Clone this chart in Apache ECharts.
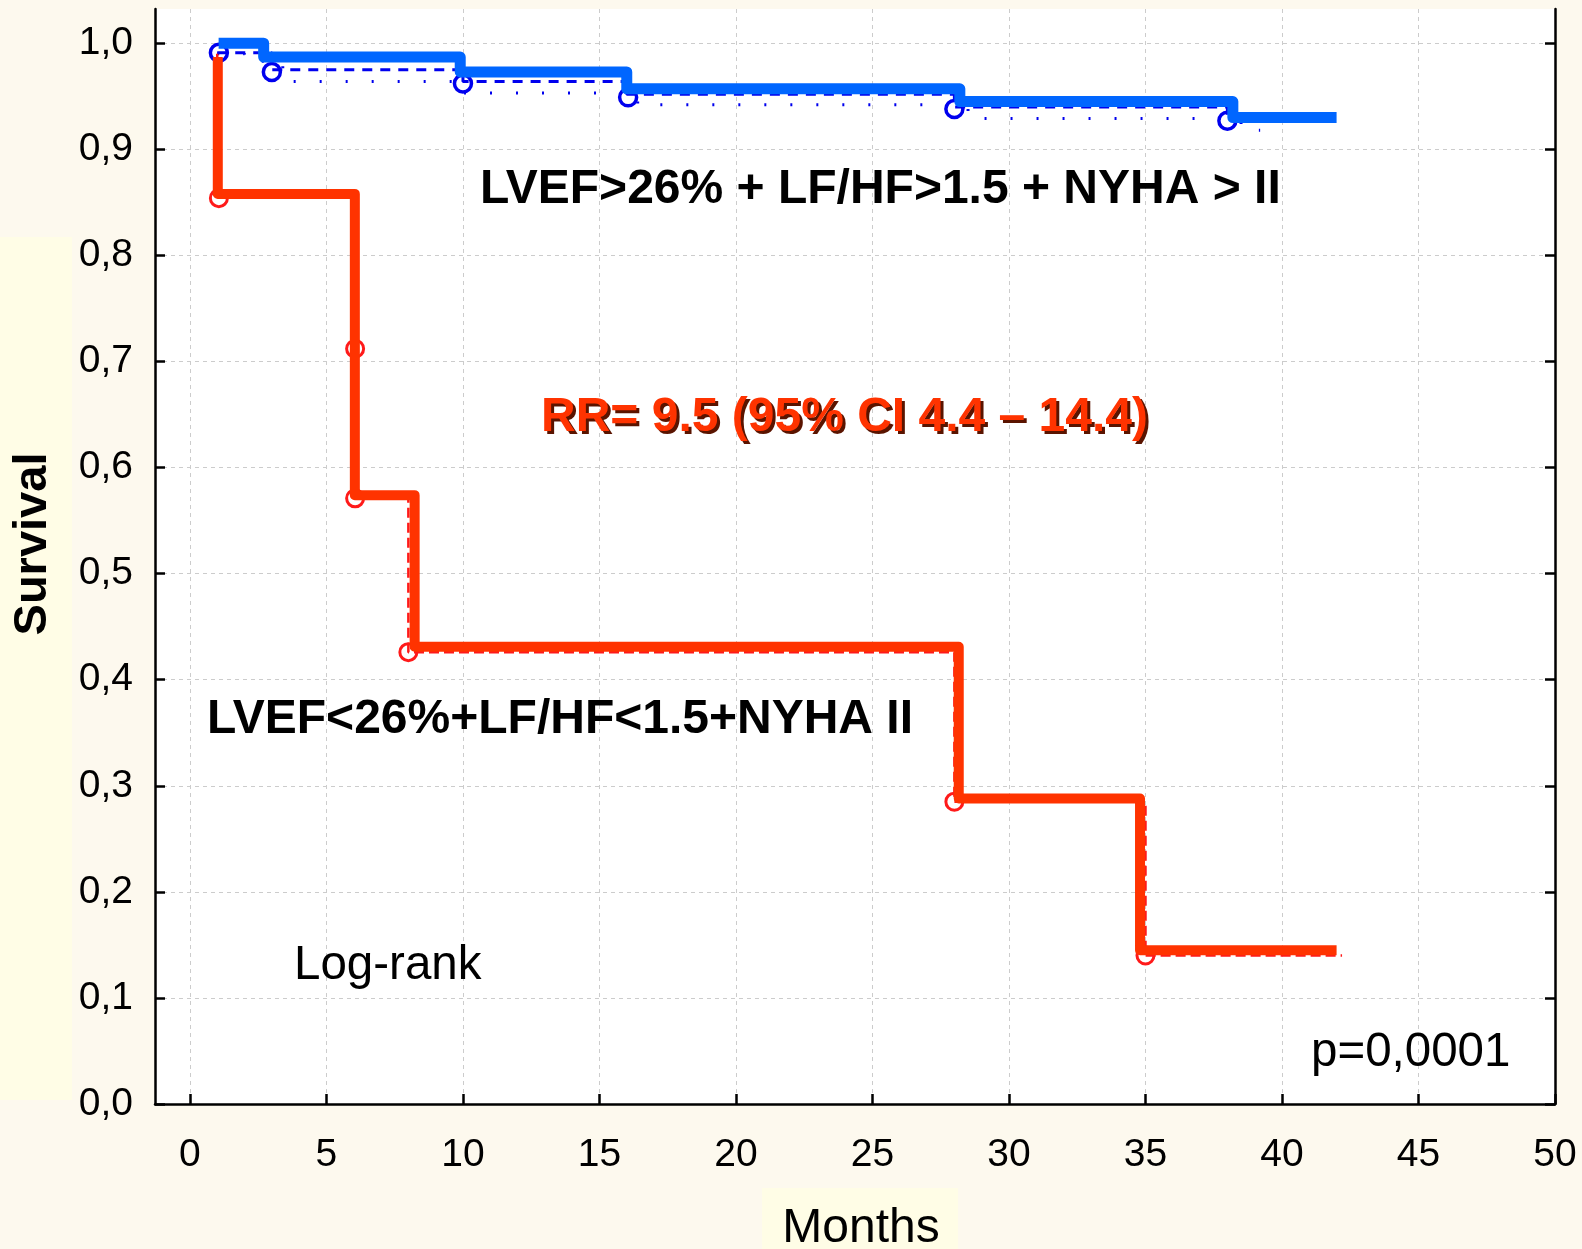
<!DOCTYPE html>
<html>
<head>
<meta charset="utf-8">
<title>Survival</title>
<script src="https://cdn.jsdelivr.net/npm/echarts@6/dist/echarts.min.js"></script>
<style>
  html, body { margin: 0; padding: 0; background: #fdf9ee; }
  #chart { width: 1582px; height: 1249px; }
</style>
</head>
<body>
<div id="chart"></div>
<script>
// tick values
const xTicks = [0, 5, 10, 15, 20, 25, 30, 35, 40, 45, 50]
const yTicks = [0, 0.1, 0.2, 0.3, 0.4, 0.5, 0.6, 0.7, 0.8, 0.9, 1.0]

// thick KM curves (step at each time)
const blueTimes = [1.05, 2.7, 9.9, 16.0, 28.2, 38.2, 42.0]
const blueSurv = [1.0, 0.987, 0.973, 0.957, 0.945, 0.930, 0.930]
const redTimes = [1.02, 1.02, 6.04, 8.23, 28.16, 34.8, 42.0]
const redSurv = [0.987, 0.858, 0.574, 0.431, 0.288, 0.145, 0.145]

// thin estimates
const blueDashT = [1.0, 3.0, 10.0, 16.0, 28.0, 38.0, 39.0]
const blueDashS = [0.991, 0.975, 0.964, 0.952, 0.940, 0.928, 0.928]
const blueDotT = [1.0, 2.0, 3.4, 10.0, 16.4, 28.5, 38.5, 39.2]
const blueDotS = [0.990, 0.983, 0.964, 0.953, 0.942, 0.929, 0.918, 0.918]
const redDashT = [1.0, 1.0, 6.0, 8.0, 28.0, 35.0, 42.2]
const redDashS = [0.990, 0.855, 0.571, 0.426, 0.285, 0.140, 0.140]

// censored / event markers
const blueCensT = [1.06, 3.0, 10.0, 16.05, 28.0, 38.0]
const blueCensS = [0.991, 0.973, 0.962, 0.949, 0.938, 0.927]
const redCensT = [1.06, 6.05, 6.05, 8.0, 28.0, 35.0]
const redCensS = [0.854, 0.712, 0.571, 0.426, 0.285, 0.140]

const FONT = '"Liberation Sans", Arial, sans-serif'

function pairs(xs, ys) {
  return xs.map((x, i) => [x, ys[i]])
}

const chart = echarts.init(document.getElementById('chart'))

const gridLine = { show: true, lineStyle: { color: '#cccccc', width: 1, type: [4, 4] } }
const axisLine = { show: true, onZero: false, lineStyle: { color: '#000', width: 2.5 } }
const axisTick = { show: true, inside: true, length: 10, lineStyle: { color: '#000', width: 2.5 } }

chart.setOption({
  animation: false,
  backgroundColor: '#fdf9ee',
  grid: {
    left: 155, right: 27, top: 9, bottom: 145,
    containLabel: false,
    outerBoundsMode: 'none',
    show: true,
    backgroundColor: '#ffffff',
    borderWidth: 0
  },
  xAxis: {
    type: 'value',
    min: -1.28,
    max: 50,
    axisLine: axisLine,
    axisTick: Object.assign({ customValues: xTicks }, axisTick),
    axisLabel: {
      customValues: xTicks,
      margin: 32,
      color: '#000',
      fontFamily: FONT,
      fontSize: 39
    },
    splitLine: gridLine
  },
  yAxis: [
    {
      type: 'value',
      min: 0,
      max: 1.0323,
      axisLine: axisLine,
      axisTick: Object.assign({ customValues: yTicks }, axisTick),
      axisLabel: {
        customValues: yTicks,
        margin: 22,
        color: '#000',
        fontFamily: FONT,
        fontSize: 39,
        formatter: (v) => v.toFixed(1).replace('.', ',')
      },
      splitLine: gridLine
    },
    {
      type: 'value',
      position: 'right',
      min: 0,
      max: 1.0323,
      axisLine: axisLine,
      axisTick: Object.assign({ customValues: yTicks }, axisTick),
      axisLabel: { show: false },
      splitLine: { show: false }
    }
  ],
  series: [
    {
      type: 'scatter',
      z: 2,
      data: pairs(blueCensT, blueCensS),
      symbol: 'circle',
      symbolSize: 17,
      itemStyle: { color: '#ffffff', borderColor: '#0000ee', borderWidth: 3.5, opacity: 1 }
    },
    {
      type: 'scatter',
      z: 2,
      data: pairs(redCensT, redCensS),
      symbol: 'circle',
      symbolSize: 17,
      itemStyle: { color: '#ffffff', borderColor: '#ff1a1a', borderWidth: 3, opacity: 1 }
    },
    {
      type: 'line',
      z: 3,
      step: 'end',
      showSymbol: false,
      data: pairs(blueDotT, blueDotS),
      lineStyle: { color: '#0000ee', width: 3, type: [2, 24] }
    },
    {
      type: 'line',
      z: 3,
      step: 'end',
      showSymbol: false,
      data: pairs(blueDashT, blueDashS),
      lineStyle: { color: '#0000ee', width: 3, type: [10, 8] }
    },
    {
      type: 'line',
      z: 3,
      step: 'end',
      showSymbol: false,
      data: pairs(redDashT, redDashS),
      lineStyle: { color: '#ff1a1a', width: 2.5, type: [10, 5] }
    },
    {
      type: 'line',
      z: 4,
      step: 'end',
      showSymbol: false,
      data: pairs(blueTimes, blueSurv),
      lineStyle: { color: '#0066ff', width: 11, join: 'round', cap: 'butt' }
    },
    {
      type: 'line',
      z: 4,
      step: 'end',
      showSymbol: false,
      data: pairs(redTimes, redSurv),
      lineStyle: { color: '#ff3300', width: 10, join: 'round', cap: 'butt' }
    }
  ],
  graphic: [
    // light boxes behind axis titles
    { type: 'rect', z: 0, shape: { x: 762, y: 1188, width: 196, height: 70 }, style: { fill: '#fffde6' } },
    { type: 'rect', z: 0, shape: { x: 0, y: 237, width: 72, height: 863 }, style: { fill: '#fffde6' } },
    {
      type: 'text', z: 10, x: 861, y: 1229,
      style: { text: 'Months', font: '48px ' + FONT, fill: '#000', align: 'center', verticalAlign: 'middle' }
    },
    {
      type: 'text', z: 10, x: 33, y: 544, rotation: Math.PI / 2,
      style: { text: 'Survival', font: 'bold 47px ' + FONT, fill: '#000', align: 'center', verticalAlign: 'middle' }
    },
    {
      type: 'text', z: 10, x: 480, y: 190,
      style: { text: 'LVEF>26% + LF/HF>1.5 + NYHA > II', font: 'bold 48px ' + FONT, fill: '#000', align: 'left', verticalAlign: 'middle' }
    },
    {
      type: 'text', z: 10, x: 544, y: 421,
      style: { text: 'RR= 9.5 (95% CI 4.4 \u2013 14.4)', font: 'bold 48px ' + FONT, fill: '#5a1400', align: 'left', verticalAlign: 'middle' }
    },
    {
      type: 'text', z: 11, x: 541, y: 418,
      style: { text: 'RR= 9.5 (95% CI 4.4 \u2013 14.4)', font: 'bold 48px ' + FONT, fill: '#ff3300', align: 'left', verticalAlign: 'middle' }
    },
    {
      type: 'text', z: 10, x: 207, y: 720,
      style: { text: 'LVEF<26%+LF/HF<1.5+NYHA II', font: 'bold 48px ' + FONT, fill: '#000', align: 'left', verticalAlign: 'middle' }
    },
    {
      type: 'text', z: 10, x: 294, y: 966,
      style: { text: 'Log-rank', font: '47.5px ' + FONT, fill: '#000', align: 'left', verticalAlign: 'middle' }
    },
    {
      type: 'text', z: 10, x: 1311, y: 1053,
      style: { text: 'p=0,0001', font: '47.5px ' + FONT, fill: '#000', align: 'left', verticalAlign: 'middle' }
    }
  ]
})
</script>
</body>
</html>
